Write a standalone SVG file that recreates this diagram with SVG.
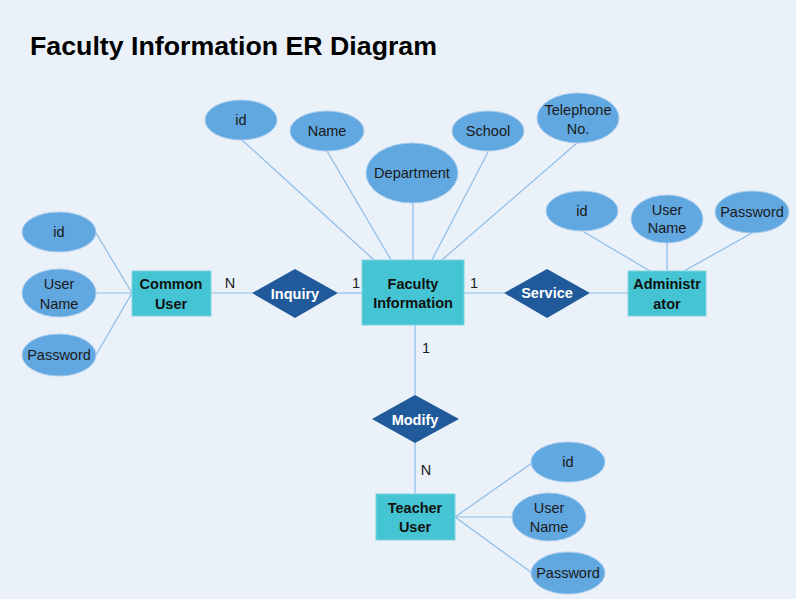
<svg xmlns="http://www.w3.org/2000/svg" width="796" height="599" viewBox="0 0 796 599">
<style>
.bg{fill:#EAF1F9}
.attr{fill:#62A8E0;stroke:#A9CDEF;stroke-width:1}
.ent{fill:#45C5D3;stroke:#7FD5DF;stroke-width:1}
.rel{fill:#215A9A}
.ln{stroke:#8DBDE8;stroke-width:1.2;fill:none}
.t{font-family:"Liberation Sans",Arial,sans-serif;font-size:14.5px;fill:#1a1a1a;text-anchor:middle}
.tb{font-family:"Liberation Sans",Arial,sans-serif;font-size:14.5px;font-weight:bold;fill:#111;text-anchor:middle}
.tw{font-family:"Liberation Sans",Arial,sans-serif;font-size:14.5px;font-weight:bold;fill:#fff;text-anchor:middle}
.title{font-family:"Liberation Sans",Arial,sans-serif;font-size:26px;font-weight:bold;fill:#000}
</style>
<rect class="bg" x="0" y="0" width="796" height="599"/>
<text class="title" x="30" y="55" textLength="407" lengthAdjust="spacingAndGlyphs">Faculty Information ER Diagram</text>

<g id="connectors">
<line class="ln" x1="242" y1="140" x2="374" y2="260"/>
<line class="ln" x1="327" y1="151" x2="391" y2="260"/>
<line class="ln" x1="413" y1="203" x2="413" y2="260"/>
<line class="ln" x1="488" y1="152" x2="432" y2="260"/>
<line class="ln" x1="577" y1="143" x2="442" y2="260"/>
<line class="ln" x1="464" y1="293" x2="504" y2="293"/>
<line class="ln" x1="590" y1="293" x2="628" y2="293"/>
<line class="ln" x1="584" y1="232" x2="650" y2="271"/>
<line class="ln" x1="667" y1="243" x2="667" y2="271"/>
<line class="ln" x1="752" y1="233" x2="684" y2="271"/>
<line class="ln" x1="96" y1="233" x2="132" y2="293"/>
<line class="ln" x1="96" y1="293" x2="132" y2="293"/>
<line class="ln" x1="96" y1="355" x2="132" y2="293"/>
<line class="ln" x1="211" y1="293" x2="252" y2="293"/>
<line class="ln" x1="338" y1="293" x2="362" y2="293"/>
<line class="ln" x1="415" y1="325" x2="415" y2="395"/>
<line class="ln" x1="415" y1="443" x2="415" y2="494"/>
<line class="ln" x1="455" y1="517" x2="532" y2="463"/>
<line class="ln" x1="455" y1="517" x2="513" y2="517"/>
<line class="ln" x1="455" y1="517" x2="532" y2="573"/>
<text class="t" x="230" y="288">N</text>
<text class="t" x="356" y="288">1</text>
<text class="t" x="474" y="288">1</text>
<text class="t" x="426" y="353">1</text>
<text class="t" x="426" y="475">N</text>
</g>

<g id="faculty-information">
<rect class="ent" x="362" y="260" width="102" height="65"/>
<text class="tb" x="413" y="289">Faculty</text>
<text class="tb" x="413" y="308">Information</text>
</g>
<g id="fi-id"><ellipse class="attr" cx="241" cy="120" rx="36" ry="20"/><text class="t" x="241" y="125">id</text></g>
<g id="fi-name"><ellipse class="attr" cx="327" cy="131" rx="37" ry="20"/><text class="t" x="327" y="136">Name</text></g>
<g id="fi-department"><ellipse class="attr" cx="412" cy="173" rx="46" ry="30"/><text class="t" x="412" y="178">Department</text></g>
<g id="fi-school"><ellipse class="attr" cx="488" cy="131" rx="36" ry="20"/><text class="t" x="488" y="136">School</text></g>
<g id="fi-telephone"><ellipse class="attr" cx="578" cy="118" rx="41" ry="25"/><text class="t" x="578" y="115">Telephone</text><text class="t" x="578" y="134">No.</text></g>

<g id="service"><polygon class="rel" points="504,293 547,269 590,293 547,318"/><text class="tw" x="547" y="298">Service</text></g>
<g id="administrator">
<rect class="ent" x="628" y="271" width="78" height="45"/>
<text class="tb" x="667" y="289">Administr</text>
<text class="tb" x="667" y="309">ator</text>
</g>
<g id="ad-id"><ellipse class="attr" cx="582" cy="211" rx="36" ry="20"/><text class="t" x="582" y="216">id</text></g>
<g id="ad-username"><ellipse class="attr" cx="667" cy="219" rx="36" ry="24"/><text class="t" x="667" y="215">User</text><text class="t" x="667" y="233">Name</text></g>
<g id="ad-password"><ellipse class="attr" cx="752" cy="212" rx="37" ry="21"/><text class="t" x="752" y="217">Password</text></g>

<g id="inquiry"><polygon class="rel" points="252,293 295,269 338,293 295,318"/><text class="tw" x="295" y="299">Inquiry</text></g>
<g id="common-user">
<rect class="ent" x="132" y="271" width="79" height="45"/>
<text class="tb" x="171" y="289">Common</text>
<text class="tb" x="171" y="309">User</text>
</g>
<g id="cu-id"><ellipse class="attr" cx="59" cy="232" rx="37" ry="20"/><text class="t" x="59" y="237">id</text></g>
<g id="cu-username"><ellipse class="attr" cx="59" cy="293" rx="37" ry="24"/><text class="t" x="59" y="289">User</text><text class="t" x="59" y="309">Name</text></g>
<g id="cu-password"><ellipse class="attr" cx="59" cy="355" rx="37" ry="21"/><text class="t" x="59" y="360">Password</text></g>

<g id="modify"><polygon class="rel" points="372,419 415,395 459,419 415,443"/><text class="tw" x="415" y="425">Modify</text></g>
<g id="teacher-user">
<rect class="ent" x="376" y="494" width="79" height="46"/>
<text class="tb" x="415" y="513">Teacher</text>
<text class="tb" x="415" y="532">User</text>
</g>
<g id="tu-id"><ellipse class="attr" cx="568" cy="462" rx="37" ry="20"/><text class="t" x="568" y="467">id</text></g>
<g id="tu-username"><ellipse class="attr" cx="549" cy="517" rx="37" ry="24"/><text class="t" x="549" y="513">User</text><text class="t" x="549" y="532">Name</text></g>
<g id="tu-password"><ellipse class="attr" cx="568" cy="573" rx="37" ry="21"/><text class="t" x="568" y="578">Password</text></g>
</svg>
